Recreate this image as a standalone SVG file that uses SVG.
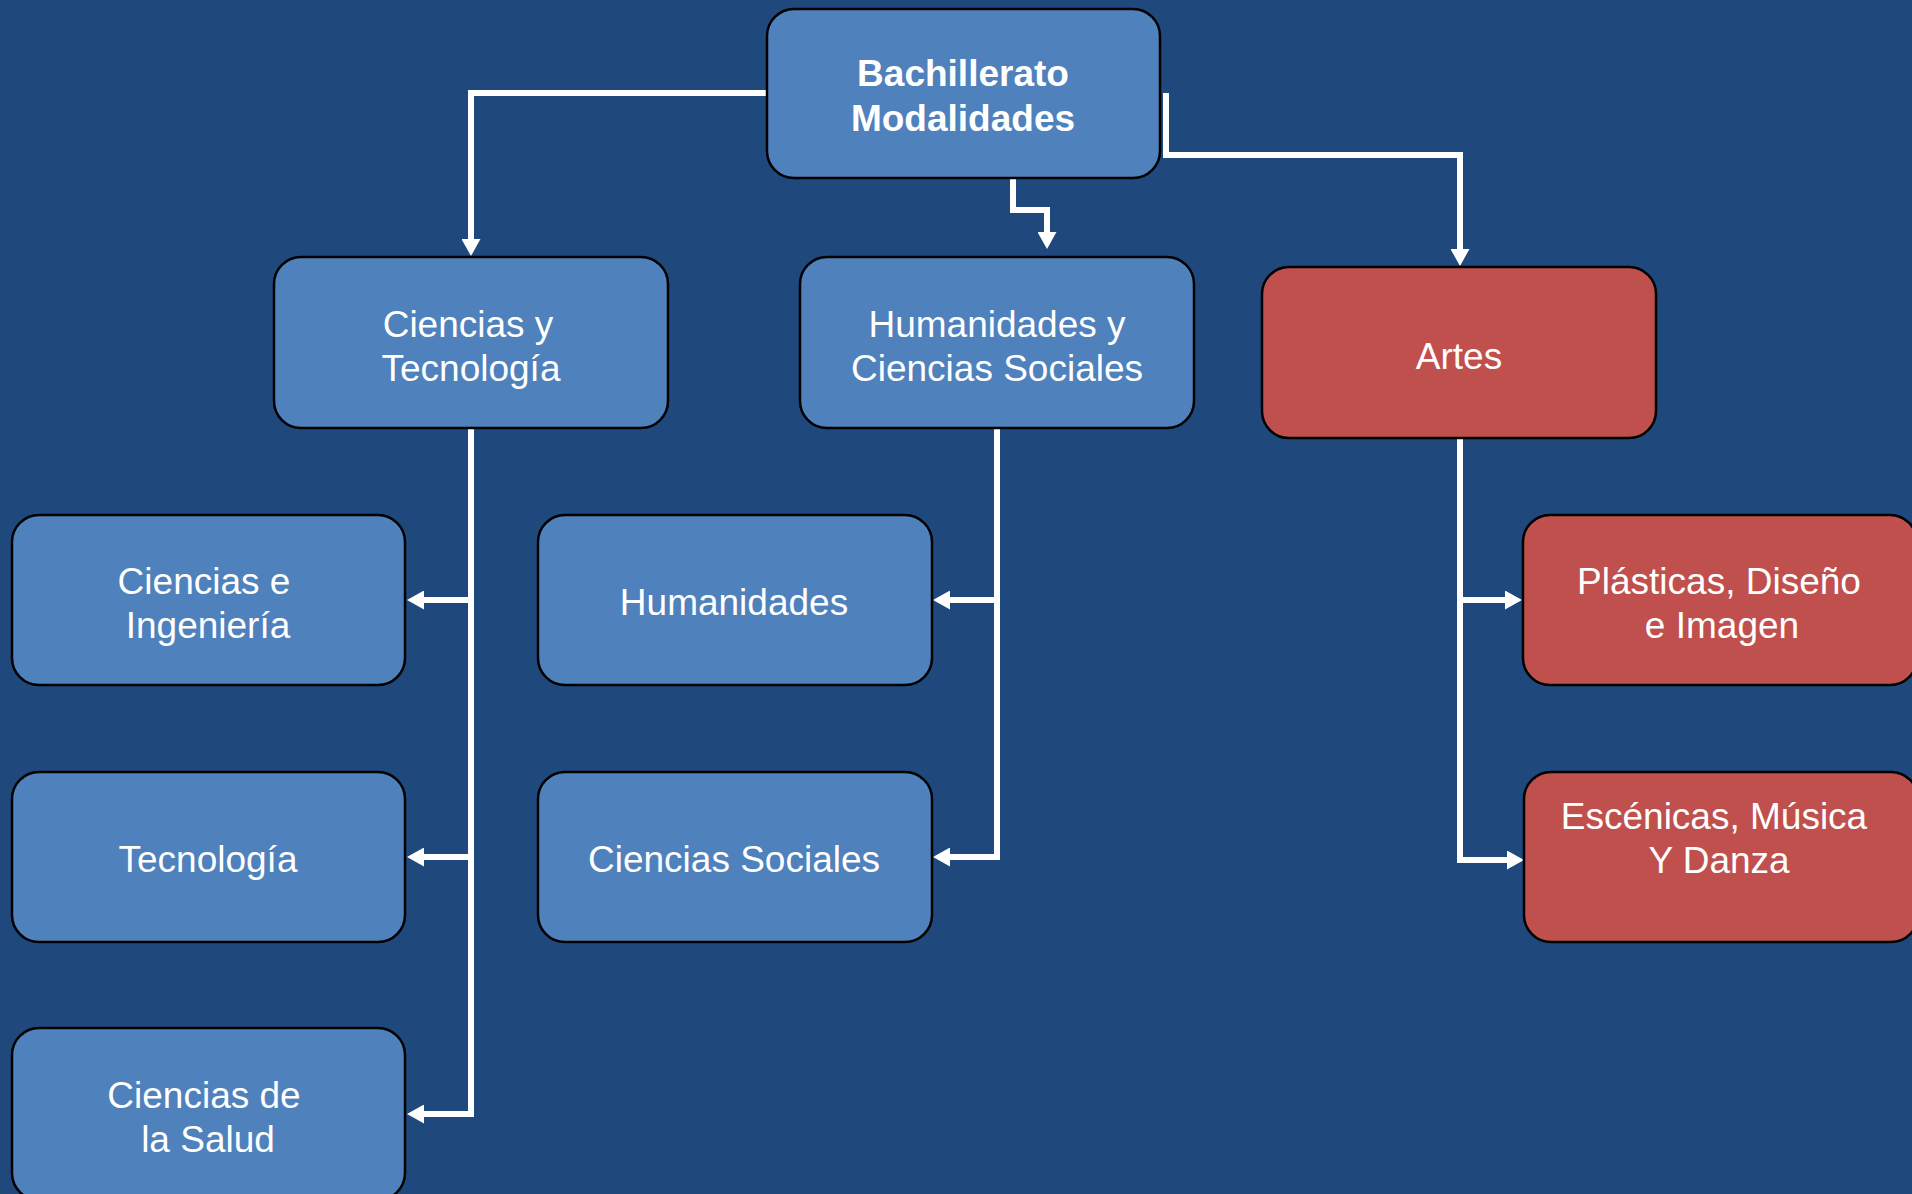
<svg xmlns="http://www.w3.org/2000/svg" width="1912" height="1194" viewBox="0 0 1912 1194">
<style>
.bg{fill:#1F497D}
.blue{fill:#4F81BD;stroke:#000;stroke-width:2.5}
.red{fill:#C0504D;stroke:#000;stroke-width:2.5}
.t{font-family:"Liberation Sans",Arial,sans-serif;font-size:37px;fill:#fff;text-anchor:middle}
.b{font-weight:bold}
.c{fill:none;stroke:#fff;stroke-width:6}
</style>
<defs>
<marker id="ah" markerUnits="userSpaceOnUse" markerWidth="17" markerHeight="19" refX="1" refY="9.5" orient="auto" viewBox="0 0 17 19">
<path d="M0,0 L17,9.5 L0,19 z" fill="#fff"/>
</marker>
</defs>
<rect class="bg" x="0" y="0" width="1912" height="1194"/>
<g id="connectors">
<path class="c" d="M767,93 H471 V240" marker-end="url(#ah)"/>
<path class="c" d="M1013,178 V210 H1047 V233" marker-end="url(#ah)"/>
<path class="c" d="M1166,93 V155 H1460 V250" marker-end="url(#ah)"/>
<path class="c" d="M471,428 V1114 H423" marker-end="url(#ah)"/>
<path class="c" d="M471,600 H423" marker-end="url(#ah)"/>
<path class="c" d="M471,857 H423" marker-end="url(#ah)"/>
<path class="c" d="M997,428 V857 H949" marker-end="url(#ah)"/>
<path class="c" d="M997,600 H949" marker-end="url(#ah)"/>
<path class="c" d="M1460,438 V860 H1508" marker-end="url(#ah)"/>
<path class="c" d="M1460,600 H1506" marker-end="url(#ah)"/>
</g>
<g id="node-bachillerato">
<rect class="blue" x="767" y="9" width="393" height="169" rx="27"/>
<text class="t b" x="963" y="86">Bachillerato</text>
<text class="t b" x="963" y="131">Modalidades</text>
</g>
<g id="node-ciencias-tecnologia">
<rect class="blue" x="274" y="257" width="394" height="171" rx="27"/>
<text class="t" x="468" y="337">Ciencias y</text>
<text class="t" x="471" y="381">Tecnología</text>
</g>
<g id="node-humanidades-cs">
<rect class="blue" x="800" y="257" width="394" height="171" rx="27"/>
<text class="t" x="997" y="337">Humanidades y</text>
<text class="t" x="997" y="381">Ciencias Sociales</text>
</g>
<g id="node-artes">
<rect class="red" x="1262" y="267" width="394" height="171" rx="27"/>
<text class="t" x="1459" y="369">Artes</text>
</g>
<g id="node-ciencias-ingenieria">
<rect class="blue" x="12" y="515" width="393" height="170" rx="27"/>
<text class="t" x="204" y="594">Ciencias e</text>
<text class="t" x="208" y="638">Ingeniería</text>
</g>
<g id="node-tecnologia">
<rect class="blue" x="12" y="772" width="393" height="170" rx="27"/>
<text class="t" x="208" y="872">Tecnología</text>
</g>
<g id="node-ciencias-salud">
<rect class="blue" x="12" y="1028" width="393" height="172" rx="27"/>
<text class="t" x="204" y="1108">Ciencias de</text>
<text class="t" x="208" y="1152">la Salud</text>
</g>
<g id="node-humanidades">
<rect class="blue" x="538" y="515" width="394" height="170" rx="27"/>
<text class="t" x="734" y="615">Humanidades</text>
</g>
<g id="node-ciencias-sociales">
<rect class="blue" x="538" y="772" width="394" height="170" rx="27"/>
<text class="t" x="734" y="872">Ciencias Sociales</text>
</g>
<g id="node-plasticas">
<rect class="red" x="1523" y="515" width="394" height="170" rx="27"/>
<text class="t" x="1719" y="594">Plásticas, Diseño</text>
<text class="t" x="1722" y="638">e Imagen</text>
</g>
<g id="node-escenicas">
<rect class="red" x="1524" y="772" width="394" height="170" rx="27"/>
<text class="t" x="1714" y="829">Escénicas, Música</text>
<text class="t" x="1719" y="873">Y Danza</text>
</g>
</svg>
